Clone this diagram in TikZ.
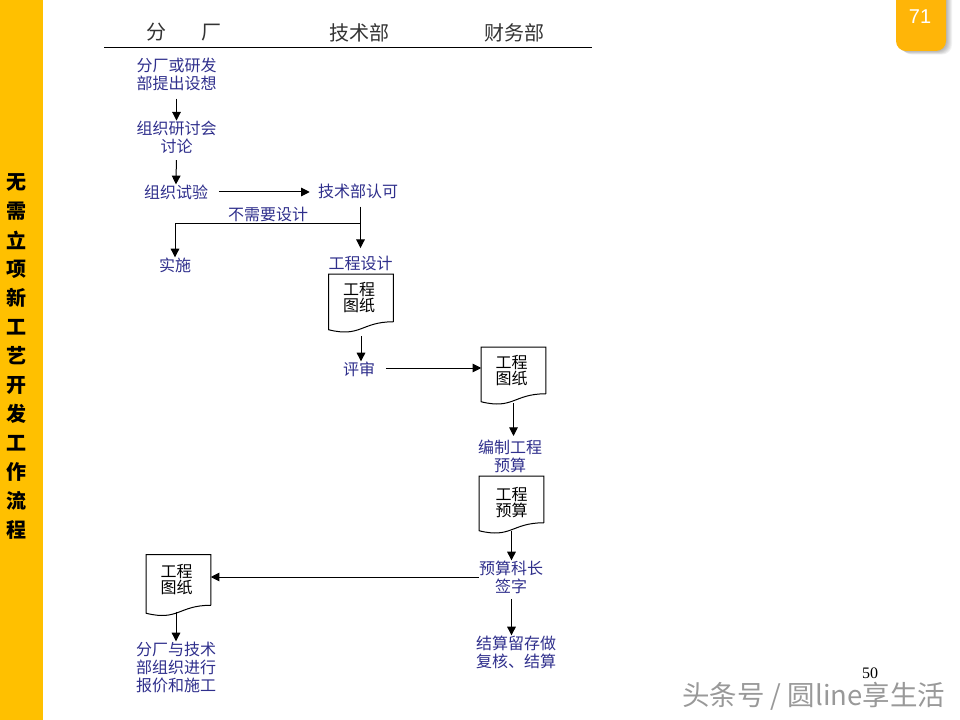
\documentclass[tikz,border=0pt]{standalone}
\usepackage{fontspec}
\setmainfont{Liberation Serif}
\newfontfamily\cjk{Noto Sans CJK SC}
\newfontfamily\badgefont{Liberation Sans}
\usepackage{xcolor}
\usetikzlibrary{arrows.meta}
\definecolor{barcolor}{HTML}{FFC000}
\definecolor{badgecolor}{HTML}{FFB508}
\definecolor{stepcolor}{HTML}{2F2F8C}
\tikzset{
  steptext/.style={font=\cjk\fontsize{12}{13.5}\selectfont,text=stepcolor,align=center,inner sep=0pt},
  headtext/.style={font=\cjk\fontsize{15}{15}\selectfont,text=black!80,inner sep=0pt},
  sidetext/.style={font=\cjk\bfseries\fontsize{15}{15}\selectfont,inner sep=0pt},
  docbox/.style={font=\cjk\fontsize{12}{12}\selectfont,align=center,inner sep=0pt,minimum width=48pt,minimum height=#1},
  arr/.style={-{Triangle[length=6.5pt,width=6.5pt]},line width=0.75pt},
}
\begin{document}
\begin{tikzpicture}[x=0.75pt, y=-0.75pt]
      \useasboundingbox (0,0) rectangle (960,720);
      \fill[white] (0,0) rectangle (960,720);
      \fill[barcolor] (0,0) rectangle (43,720);
      \foreach \c [count=\i from 0] in {无,需,立,项,新,工,艺,开,发,工,作,流,程}
        \node[sidetext] (side\i) at (17,182+29*\i) {\c};
      \foreach \s in {1,2,...,6}
        \fill[black,opacity=0.05,rounded corners=7.5pt] (896+\s,-20) rectangle (946+\s,51+0.6*\s);
      \fill[badgecolor,rounded corners=7.5pt] (896,-20) rectangle (946,51);
      \node[font=\badgefont\fontsize{15}{15}\selectfont,text=white] (badge) at (920,16.5) {71};

      \node[headtext] (headA) at (156,32.5) {分};
      \node[headtext] (headB) at (211,32.5) {厂};
      \node[headtext] (headC) at (359,32.5) {技术部};
      \node[headtext] (headD) at (514,32.5) {财务部};
      \draw[line width=0.75pt] (104,48) coordinate (ruleL) -- (592,48) coordinate (ruleR);

      \node[steptext] (idea)   at (176.5,74)  {分厂或研发\\部提出设想};
      \node[steptext] (meet)   at (176.5,137) {组织研讨会\\讨论};
      \node[steptext] (trial)  at (176,192)   {组织试验};
      \node[steptext] (accept) at (358,191)   {技术部认可};
      \node[steptext] (nodes)  at (268,214)   {不需要设计};
      \node[steptext] (doit)   at (175,265)   {实施};
      \node[steptext] (design) at (360.5,263) {工程设计};
      \node[docbox=35.25pt] (docA) at (361,298) {工程\hspace*{3pt}\\图纸\hspace*{3pt}};
      \node[steptext] (review) at (359,369)   {评审};
      \node[docbox=34.5pt] (docB) at (513.5,370.5) {工程\hspace*{3pt}\\图纸\hspace*{3pt}};
      \node[steptext] (plan)   at (510,456)   {编制工程\\预算};
      \node[docbox=34.5pt] (docC) at (511.5,499.5) {\rule{0pt}{15pt}工程\\预算};
      \node[steptext] (sign)   at (511,577)   {预算科长\\签字};
      \node[steptext] (final)  at (516,652)   {结算留存做\\复核、结算};
      \node[docbox=37.5pt] (docD) at (178.5,580) {工程\hspace*{3pt}\\图纸\hspace*{3pt}};
      \node[steptext] (build)  at (176,667)   {分厂与技术\\部组织进行\\报价和施工};
      \node[font=\fontsize{12}{12}\selectfont,inner sep=0pt] (page) at (870,673) {50};
      \node[font=\cjk\fontsize{20.6}{20.6}\selectfont,text=black!40,inner sep=0pt,anchor=west] (mark) at (682,696) {头条号 / 圆line享生活};

      \foreach \n in {docA,docB,docC,docD}
        \draw[line width=0.75pt] (\n.south east) -- (\n.north east) -- (\n.north west) -- ([yshift=-6pt]\n.south west)
          .. controls ([xshift=24pt,yshift=-12pt]\n.south west) and ([xshift=-24pt]\n.south east) .. (\n.south east);

      \coordinate (branch) at (360.5,224);
      \draw[arr,shorten <=6pt] (idea.south) -- (meet.north);
      \draw[arr,shorten <=5pt] (meet.south) -- (trial.north);
      \draw[arr,shorten <=8pt,shorten >=6pt] (trial.east) -- (trial.east -| accept.west);
      \draw[arr,shorten <=6pt,shorten >=5.5pt] (accept.south -| design.north) -- (design.north);
      \draw[arr] (branch) -| (doit.north);
      \draw[arr,shorten <=11pt] (docA.south) -- (review.north -| docA.south);
      \draw[arr,shorten <=8pt] ([yshift=0.75pt]review.east) -- ([yshift=0.75pt]review.east -| docB.west);
      \draw[arr,shorten <=7pt,shorten >=2.5pt] (docB.south) -- (plan.north -| docB.south);
      \draw[arr,shorten <=6pt] (docC.south) -- (sign.north -| docC.south);
      \draw[arr] (sign.west) -- (sign.west -| docD.east);
      \draw[arr,shorten <=4pt] (sign.south -| docC.south) -- (final.north -| docC.south);
      \draw[arr,shorten <=5pt] (docD.south -| build.north) -- (build.north);
\end{tikzpicture}
\end{document}
